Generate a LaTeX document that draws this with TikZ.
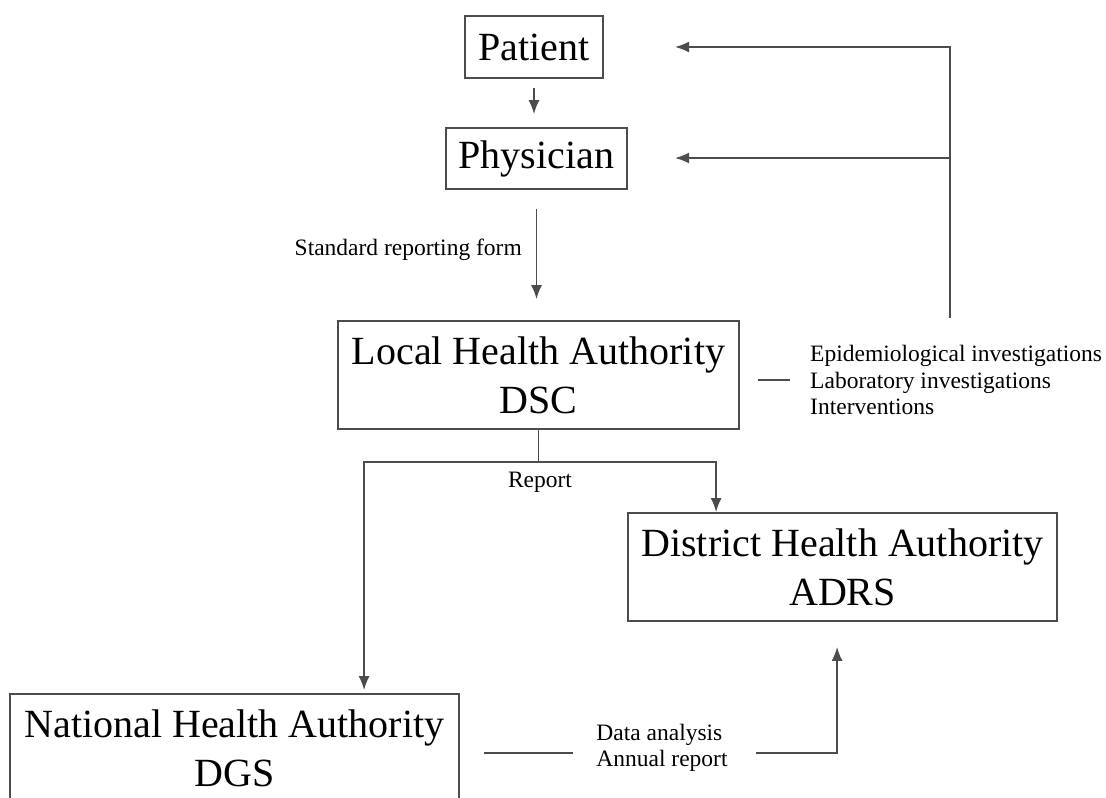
\documentclass[tikz,border=0pt]{standalone}
\usepackage{fontspec}
\setmainfont{Liberation Serif}
\usetikzlibrary{positioning}
\usetikzlibrary{calc}
\usetikzlibrary{arrows.meta}
\colorlet{line}{black!70}

\begin{document}
\begin{tikzpicture}[x=1pt,y=-1pt,
  box/.style={draw=line,line width=1.8pt,inner sep=0pt,align=center,font=\fontsize{40}{49}\selectfont},
  small/.style={inner sep=0pt,align=left,font=\fontsize{23.5}{26.5}\selectfont},
  link/.style={draw=line,line width=1.8pt},
  arr/.style={link,-{Latex[length=14pt,width=11pt]}}]
\useasboundingbox (0,0) rectangle (1106,798);
\clip (0,0) rectangle (1106,798);
% boxes
\node[box,minimum width=138pt,minimum height=62pt] (patient) at (534,47) {Patient};
\node[box,minimum width=181pt,minimum height=61pt] (physician) at (536.5,158.5) {Physician};
\node[box,minimum width=401pt,minimum height=108pt] (local) at (538.5,375) {Local Health Authority\\DSC};
\node[box,minimum width=429pt,minimum height=108pt] (district) at (842.5,567) {District Health Authority\\ADRS};
\node[box,minimum width=449pt,minimum height=108pt] (national) at (234.5,748) {National Health Authority\\DGS};
% labels
\node[small,anchor=east] (form) at (522,250) {Standard reporting form};
\node[small] (report) at (540,482) {Report};
\node[small,anchor=west] (actions) at (810,380) {Epidemiological investigations\\Laboratory investigations\\Interventions};
\node[small] (analysis) at (662,748) {Data analysis\\Annual report};
% free ends of the feedback arrows
\coordinate (fb) at (950,318);
\coordinate (patin) at (675,47);
\coordinate (phyin) at (675,158);
\coordinate (split) at ($(local.south)+(0,32)$);
% connectors
\draw[arr,shorten <=9pt,shorten >=13pt] (patient.south) -- (patient.south |- physician.north);
\draw[arr,shorten <=19pt,shorten >=21pt] (physician.south) -- (physician.south |- local.north);
\draw[arr] (fb) |- (patin);
\draw[arr] (fb |- phyin) -- (phyin);
\draw[link,shorten <=18pt,shorten >=20pt] (local.east |- actions.west) -- (actions.west);
\draw[link] (local.south) -- (split);
\draw[arr] (split) -| ([xshift=89pt]district.north west);
\draw[arr,shorten >=3pt] (split) -| ([xshift=355pt]national.north west);
\draw[link,shorten <=24pt,shorten >=23pt] ([yshift=-5pt]national.east) -- ([yshift=-5pt]national.east -| analysis.west);
\draw[arr,shorten <=28pt,shorten >=25pt] ([yshift=-5pt]analysis.east) -| ([xshift=210pt]district.south west);
\end{tikzpicture}
\end{document}
